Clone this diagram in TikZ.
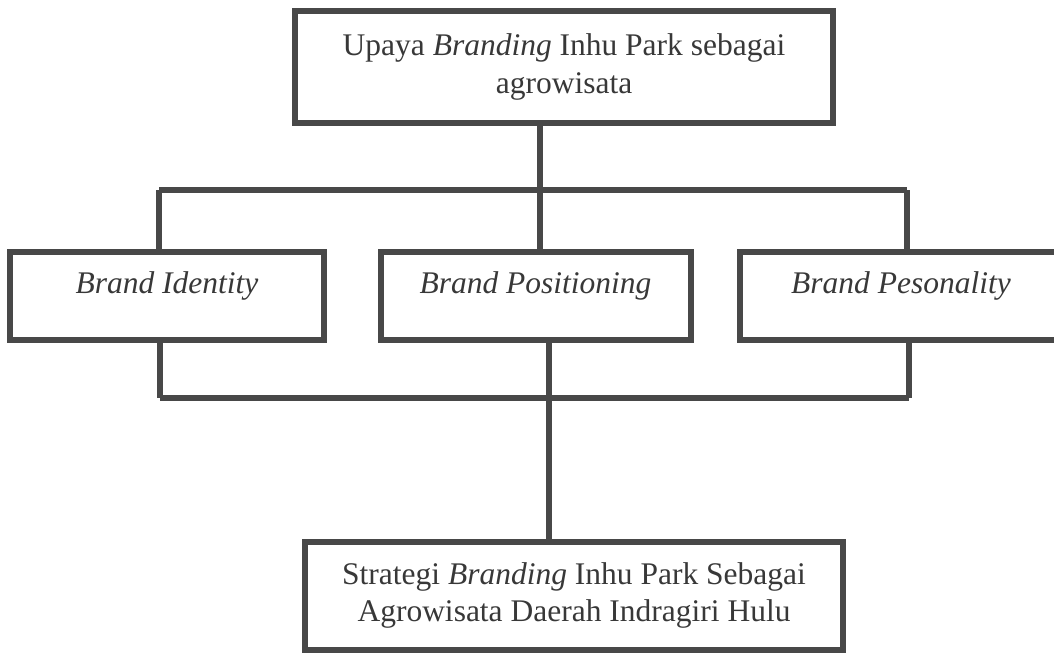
\documentclass[tikz,border=0pt]{standalone}
\usepackage{fontspec}
\setmainfont{Liberation Serif}

\definecolor{boxline}{HTML}{484848}
\definecolor{boxtext}{HTML}{383838}

\tikzset{
    box/.style={draw=boxline, line width=3pt, text=boxtext, align=center,
        inner sep=0pt, font=\fontsize{15.75}{18.75}\selectfont},
    onebox/.style={box, minimum height=43.75pt, text height=11pt, text depth=14pt},
    bus/.style={draw=boxline, line width=3pt},
}

\begin{document}
\begin{tikzpicture}[x=0.5pt, y=-0.5pt]

    \useasboundingbox (0,0) rectangle (1054,653);
    \clip (0,0) rectangle (1054,653);

    \node[box, minimum width=269.25pt, minimum height=56pt] (upaya) at (564,67)
        {Upaya \emph{Branding} Inhu Park sebagai\\agrowisata};

    \node[onebox, minimum width=157.25pt] (identity) at (167,296) {\emph{Brand Identity}};
    \node[onebox, minimum width=155pt] (positioning) at (535.5,296) {\emph{Brand Positioning}};
    \node[onebox, minimum width=161pt] (personality) at (901,296) {\emph{Brand Pesonality}};

    \node[box, minimum width=269.25pt, minimum height=54pt] (strategi) at (574,595.5)
        {Strategi \emph{Branding} Inhu Park Sebagai\\Agrowisata Daerah Indragiri Hulu};

    % upper bus
    \coordinate (tl) at (159,190);
    \coordinate (tm) at (540,190);
    \coordinate (tr) at (907,190);
    \draw[bus] (tl) -- (tr);
    \draw[bus] (tm |- upaya.south) -- (tm |- positioning.north);
    \draw[bus] (tl) -- (tl |- identity.north);
    \draw[bus] (tr) -- (tr |- personality.north);

    % lower bus
    \coordinate (bl) at (160,398);
    \coordinate (bm) at (549,398);
    \coordinate (br) at (909,398);
    \draw[bus] (bl) -- (br);
    \draw[bus] (bl |- identity.south) -- (bl);
    \draw[bus] (br |- personality.south) -- (br);
    \draw[bus] (bm |- positioning.south) -- (bm |- strategi.north);

\end{tikzpicture}
\end{document}
